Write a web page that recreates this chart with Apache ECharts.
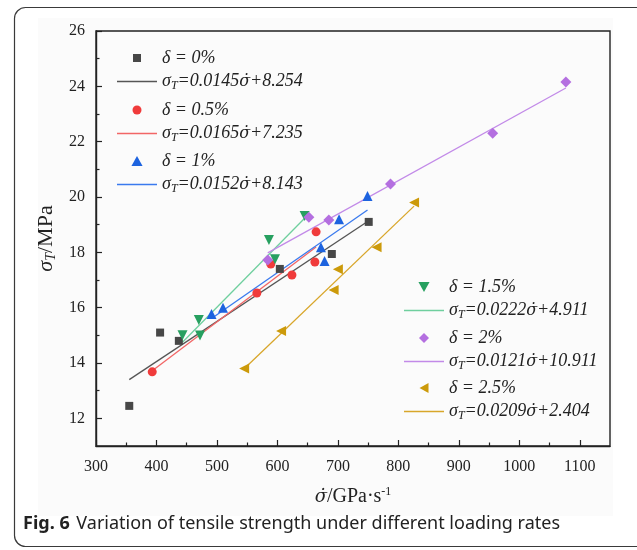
<!DOCTYPE html>
<html>
<head>
<meta charset="utf-8">
<script src="https://cdn.jsdelivr.net/npm/echarts@6/dist/echarts.min.js"></script>
<style>html,body{margin:0;padding:0;background:#fff;}#c{width:637px;height:550px;}</style>
</head>
<body>
<div id="c"></div>
<script>
// ---- data ----
const xTickLabels = [300, 400, 500, 600, 700, 800, 900, 1000, 1100];
const xMinorTicks = [350, 450, 550, 650, 750, 850, 950, 1050];
const yTickLabels = [12, 14, 16, 18, 20, 22, 24, 26];
const yMinorTicks = [13, 15, 17, 19, 21, 23, 25];

const seriesNames = ['δ = 0%', 'δ = 0.5%', 'δ = 1%', 'δ = 1.5%', 'δ = 2%', 'δ = 2.5%'];
const fitNames = ['σT=0.0145σ̇+8.254', 'σT=0.0165σ̇+7.235', 'σT=0.0152σ̇+8.143',
                  'σT=0.0222σ̇+4.911', 'σT=0.0121σ̇+10.911', 'σT=0.0209σ̇+2.404'];

const delta0  = [[355, 12.45], [406, 15.10], [437, 14.80], [604, 17.40], [690, 17.94], [751, 19.10]];
const delta05 = [[393, 13.68], [566, 16.53], [589, 17.58], [624, 17.18], [662, 17.65], [664, 18.74]];
const delta1  = [[491, 15.77], [510, 16.00], [672, 18.18], [678, 17.69], [702, 19.20], [749, 20.04]];
const delta15 = [[443, 15.00], [470, 15.55], [472, 14.99], [586, 18.45], [596, 17.75], [645, 19.31]];
const delta2  = [[584, 17.72], [652, 19.27], [685, 19.17], [787, 20.47], [956, 22.30], [1077, 24.16]];
const delta25 = [[545, 13.80], [606, 15.16], [693, 16.64], [700, 17.39], [764, 18.18], [826, 19.80]];

const fit0  = [[355, 13.40], [751, 19.14]];
const fit05 = [[393, 13.72], [664, 18.19]];
const fit1  = [[491, 15.61], [749, 19.53]];
const fit15 = [[443, 14.75], [645, 19.23]];
const fit2  = [[584, 17.98], [1077, 23.94]];
const fit25 = [[545, 13.79], [826, 19.67]];

// ---- styles ----
const pointData = [delta0, delta05, delta1, delta15, delta2, delta25];
const fitData = [fit0, fit05, fit1, fit15, fit2, fit25];
const markColors = ['#474747', '#f03b3b', '#1d63df', '#27a060', '#b46fe0', '#cc9a0a'];
const lineColors = ['#555555', '#f26666', '#3a7aee', '#6fcf9e', '#c28ae8', '#d8a62a'];
const symbols = ['rect', 'circle', 'triangle', 'triangle', 'diamond', 'triangle'];
const symbolRot = [0, 0, 0, 180, 0, 90];
const symbolSizes = [8, 9, 10, 10, 11, 10];
const legendIcons = [
  'path://M0,0L10,0L10,10L0,10Z',
  'circle',
  'path://M5,0L10,9L0,9Z',
  'path://M0,0L10,0L5,9Z',
  'path://M5,0L10,5L5,10L0,5Z',
  'path://M0,5L9,0L9,10Z'
];
const legendIconSize = [8, 9, 10, 10, 10, 10];
const lineIcon = 'path://M0,0L40,0L40,1.3L0,1.3Z';

const serif = 'Liberation Serif';
const dotFont = 'DejaVu Serif';

function fitRich(name) {
  const m = name.match(/^σT=(.*)σ̇(.*)$/);
  return '{s|σ}{sub|T}{e|=' + m[1] + '}{dot|σ̇}{e|' + m[2] + '}';
}

const richStyles = {
  s: {fontFamily: serif, fontStyle: 'italic', fontSize: 18, lineHeight: 20, color: '#222'},
  e: {fontFamily: serif, fontStyle: 'italic', fontSize: 18, lineHeight: 20, color: '#222'},
  d: {fontFamily: serif, fontStyle: 'italic', fontSize: 18, lineHeight: 20, color: '#222'},
  dot: {fontFamily: dotFont, fontStyle: 'italic', fontSize: 16, lineHeight: 20, color: '#222'},
  sub: {fontFamily: serif, fontStyle: 'italic', fontSize: 12, lineHeight: 10, verticalAlign: 'bottom', color: '#222'}
};

const series = [];
for (let i = 0; i < 6; i++) {
  series.push({
    name: seriesNames[i], type: 'scatter', data: pointData[i],
    symbol: symbols[i], symbolRotate: symbolRot[i], symbolSize: symbolSizes[i],
    itemStyle: {color: markColors[i], opacity: 1}, z: 3
  });
  series.push({
    name: fitNames[i], type: 'line', data: fitData[i], symbol: 'none',
    lineStyle: {color: lineColors[i], width: 1.3}, itemStyle: {color: lineColors[i]}, z: 2
  });
}

const legendPos = [
  {left: 117, top: 48}, {left: 117, top: 100}, {left: 117, top: 151},
  {left: 404, top: 277}, {left: 404, top: 328}, {left: 404, top: 378}
];
const legends = legendPos.map((p, i) => ({
  orient: 'vertical', left: p.left, top: p.top, padding: 0,
  itemWidth: 40, itemHeight: legendIconSize[i], itemGap: 3.5, selectedMode: false,
  data: [{name: seriesNames[i], icon: legendIcons[i]}, {name: fitNames[i], icon: lineIcon}],
  formatter: function (name) {
    if (name.indexOf('σT') === 0) return fitRich(name);
    return '{d|' + name + '}';
  },
  textStyle: {fontFamily: serif, fontStyle: 'italic', fontSize: 18, lineHeight: 20, color: '#222', rich: richStyles}
}));

const axisLabelStyle = {fontFamily: serif, fontSize: 16, color: '#222'};
const plainNum = v => String(v);

const option = {
  animation: false,
  backgroundColor: '#ffffff',
  grid: {left: 96, top: 31, right: 27, bottom: 104, show: true, borderColor: '#222', borderWidth: 1.4, backgroundColor: 'transparent'},
  xAxis: [{
    type: 'value', min: 300, max: 1150, interval: 100,
    axisLine: {show: true, lineStyle: {color: '#222', width: 1.4}},
    axisTick: {show: true, inside: true, length: 6, customValues: xTickLabels, lineStyle: {color: '#222', width: 1.2}},
    axisLabel: {show: true, margin: 13, customValues: xTickLabels, formatter: plainNum, ...axisLabelStyle},
    splitLine: {show: false},
    name: '{s|σ̇}{n|/GPa·s}{sup|-1}', nameLocation: 'middle', nameGap: 40,
    nameTextStyle: {fontFamily: serif, fontSize: 20, color: '#222', rich: {
      s: {fontFamily: dotFont, fontStyle: 'italic', fontSize: 18, lineHeight: 22, color: '#222'},
      n: {fontFamily: serif, fontSize: 20, lineHeight: 22, color: '#222'},
      sup: {fontFamily: serif, fontSize: 12, lineHeight: 12, verticalAlign: 'top', color: '#222'}
    }}
  }, {
    type: 'value', min: 300, max: 1150, position: 'bottom',
    axisLine: {show: false},
    axisTick: {show: true, inside: true, length: 3.5, customValues: xMinorTicks, lineStyle: {color: '#222', width: 1.2}},
    axisLabel: {show: false}, splitLine: {show: false}
  }],
  yAxis: [{
    type: 'value', min: 11, max: 26, interval: 1,
    axisLine: {show: true, lineStyle: {color: '#222', width: 1.4}},
    axisTick: {show: true, inside: true, length: 6, customValues: yTickLabels, lineStyle: {color: '#222', width: 1.2}},
    axisLabel: {show: true, margin: 11, customValues: yTickLabels, formatter: plainNum, ...axisLabelStyle},
    splitLine: {show: false},
    name: '{s|σ}{sub|T}{n|/MPa}', nameLocation: 'middle', nameGap: 37, nameRotate: 90,
    nameTextStyle: {fontFamily: serif, fontSize: 22, color: '#222', rich: {
      s: {fontFamily: serif, fontStyle: 'italic', fontSize: 22, lineHeight: 24, color: '#222'},
      n: {fontFamily: serif, fontSize: 22, lineHeight: 24, color: '#222'},
      sub: {fontFamily: serif, fontStyle: 'italic', fontSize: 14, lineHeight: 12, verticalAlign: 'bottom', color: '#222'}
    }}
  }, {
    type: 'value', min: 11, max: 26, interval: 1, position: 'left',
    axisLine: {show: false},
    axisTick: {show: true, inside: true, length: 3.5, customValues: yMinorTicks, lineStyle: {color: '#222', width: 1.2}},
    axisLabel: {show: false}, splitLine: {show: false}
  }],
  legend: legends,
  series: series,
  graphic: [
    {type: 'rect', z: -10, silent: true, shape: {x: 38, y: 18, width: 575, height: 498}, style: {fill: '#fbfbfb'}},
    {type: 'rect', z: 100, silent: true, shape: {x: 14.5, y: 7.5, width: 640, height: 539, r: 11}, style: {fill: 'none', stroke: '#3a3a3a', lineWidth: 1.2}},
    {type: 'text', z: 100, left: 23, top: 515, silent: true, style: {
      text: '{b|Fig. 6}  {n|Variation of tensile strength under different loading rates}',
      rich: {
        b: {fontFamily: 'Noto Sans', fontWeight: 'bold', fontSize: 18, fill: '#222'},
        n: {fontFamily: 'Noto Sans', fontSize: 18, fill: '#222'}
      }
    }}
  ]
};

const chart = echarts.init(document.getElementById('c'), null, {renderer: 'canvas'});
chart.setOption(option);
</script>
</body>
</html>
